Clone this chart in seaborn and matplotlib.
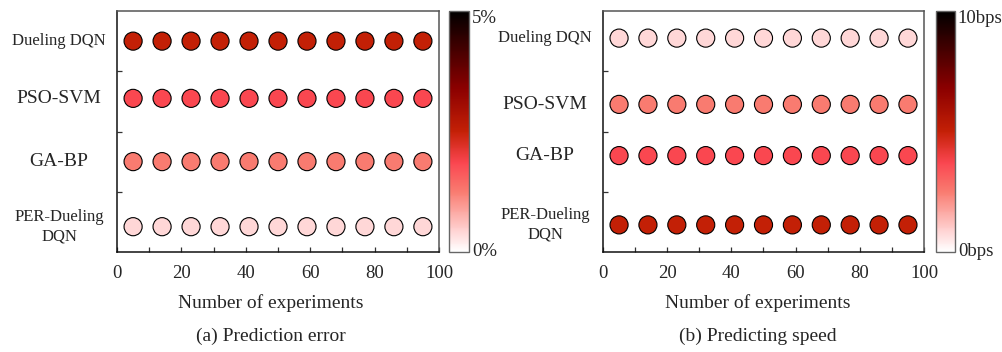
import numpy as np
import pandas as pd
import matplotlib
matplotlib.use("Agg")
import matplotlib.pyplot as plt
from matplotlib.colors import LinearSegmentedColormap, Normalize
from matplotlib.cm import ScalarMappable
import seaborn as sns

# ---------------- data ----------------
methods = ["Dueling DQN", "PSO-SVM", "GA-BP", "PER-Dueling\nDQN"]
experiments = [5, 14, 23, 32, 41, 50, 59, 68, 77, 86, 95]

# prediction error (%) per method, one value per experiment
err_dueling = [2.5, 2.5, 2.5, 2.5, 2.5, 2.5, 2.5, 2.5, 2.5, 2.5, 2.5]
err_psosvm = [1.85, 1.85, 1.85, 1.85, 1.85, 1.85, 1.85, 1.85, 1.85, 1.85, 1.85]
err_gabp = [1.25, 1.25, 1.25, 1.25, 1.25, 1.25, 1.25, 1.25, 1.25, 1.25, 1.25]
err_per = [0.4, 0.4, 0.4, 0.4, 0.4, 0.4, 0.4, 0.4, 0.4, 0.4, 0.4]

# predicting speed (bps) per method
spd_dueling = [0.8, 0.8, 0.8, 0.8, 0.8, 0.8, 0.8, 0.8, 0.8, 0.8, 0.8]
spd_psosvm = [2.5, 2.5, 2.5, 2.5, 2.5, 2.5, 2.5, 2.5, 2.5, 2.5, 2.5]
spd_gabp = [3.7, 3.7, 3.7, 3.7, 3.7, 3.7, 3.7, 3.7, 3.7, 3.7, 3.7]
spd_per = [5.0, 5.0, 5.0, 5.0, 5.0, 5.0, 5.0, 5.0, 5.0, 5.0, 5.0]

err_range = (0, 5)
spd_range = (0, 10)
err_cbar_labels = ["0%", "5%"]
spd_cbar_labels = ["0bps", "10bps"]
x_label = "Number of experiments"
captions = ["(a) Prediction error", "(b) Predicting speed"]

# row layout (vertical slot of each method)
row_y_left = [3.5, 2.55, 1.5, 0.42]
row_y_right = [3.55, 2.45, 1.6, 0.45]
label_sizes = [12, 14, 14, 12]

# ---------------- style ----------------
sns.set_style("white")
plt.rcParams["font.family"] = ["Liberation Serif", "DejaVu Serif"]

cmap = LinearSegmentedColormap.from_list(
    "wrk",
    [(0.0, "#ffffff"), (0.08, "#ffd6d6"), (0.25, "#f97b70"), (0.37, "#fa4650"),
     (0.5, "#c42006"), (0.68, "#8b0000"), (1.0, "#000000")])

fig = plt.figure(figsize=(10.03, 3.52), dpi=100)
W, H = 1003, 352

def fx(px):
    return px / W

def fy(py):
    return 1 - py / H

top, bot = 11, 252
ax1 = fig.add_axes([fx(117), fy(bot), fx(439 - 117), (bot - top) / H])
ax2 = fig.add_axes([fx(603), fy(bot), fx(924 - 603), (bot - top) / H])
cax1 = fig.add_axes([fx(449), fy(bot), fx(20), (bot - top) / H])
cax2 = fig.add_axes([fx(936), fy(bot), fx(19), (bot - top) / H])

def build_df(values, rows):
    recs = []
    for m, vals, y in zip(methods, values, rows):
        for x, v in zip(experiments, vals):
            recs.append({"method": m, "x": x, "y": y, "value": v})
    return pd.DataFrame(recs)

panels = [
    (ax1, cax1, build_df([err_dueling, err_psosvm, err_gabp, err_per], row_y_left),
     err_range, err_cbar_labels, row_y_left, 271, captions[0]),
    (ax2, cax2, build_df([spd_dueling, spd_psosvm, spd_gabp, spd_per], row_y_right),
     spd_range, spd_cbar_labels, row_y_right, 758, captions[1]),
]

for ax, cax, df, vr, cl, rows, cx, cap in panels:
    norm = Normalize(vmin=vr[0], vmax=vr[1])
    sns.scatterplot(data=df, x="x", y="y", hue="value", palette=cmap,
                    hue_norm=norm, s=170, edgecolor="black", linewidth=0.8,
                    legend=False, ax=ax, zorder=3)
    ax.set_xlim(0, 100)
    ax.set_ylim(0, 4)
    ax.set_xticks([0, 20, 40, 60, 80, 100])
    ax.set_xticks(list(range(10, 100, 10)), minor=True)
    ax.set_yticks([1, 2, 3])
    ax.set_yticklabels([])
    ax.tick_params(axis="x", which="both", direction="in", length=3.5,
                   width=0.9, labelsize=13.5, pad=9, color="#333333",
                   bottom=True)
    ax.tick_params(axis="y", which="both", direction="in", length=3.5,
                   width=0.9, color="#333333", left=True)
    ax.set_xlabel("")
    ax.set_ylabel("")
    for s in ["left", "bottom"]:
        ax.spines[s].set_color("#111111")
        ax.spines[s].set_linewidth(1.1)
    for s in ["top", "right"]:
        ax.spines[s].set_color("#555555")
        ax.spines[s].set_linewidth(1.1)
    for m, y, fs in zip(methods, rows, label_sizes):
        ax.annotate(m, xy=(0, y), xycoords=("axes fraction", "data"),
                    xytext=(-58 * 0.72, 0), textcoords="offset points",
                    ha="center", va="center", fontsize=fs, linespacing=1.35)
    # colorbar
    cb = fig.colorbar(ScalarMappable(norm=norm, cmap=cmap), cax=cax)
    cb.set_ticks([])
    cb.outline.set_edgecolor("#666666")
    cb.outline.set_linewidth(1.0)
    cax.annotate(cl[1], xy=(1, 1), xycoords="axes fraction",
                 xytext=(2, 1), textcoords="offset points",
                 ha="left", va="top", fontsize=13.5)
    cax.annotate(cl[0], xy=(1, 0), xycoords="axes fraction",
                 xytext=(2, -3), textcoords="offset points",
                 ha="left", va="baseline", fontsize=13.5)
    fig.text(fx(cx), fy(303), x_label, ha="center", va="center", fontsize=14)
    fig.text(fx(cx), fy(336), cap, ha="center", va="center", fontsize=14)

fig.savefig("out.png", dpi=100)
